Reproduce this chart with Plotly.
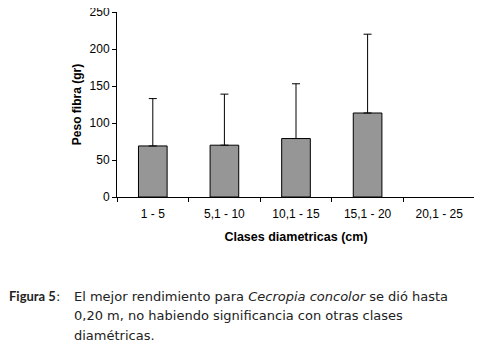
import plotly.graph_objects as go

categories = ["1 - 5", "5,1 - 10", "10,1 - 15", "15,1 - 20", "20,1 - 25"]
peso_fibra = [69, 70, 79, 113.5, None]
error_sup = [64, 69, 74, 106.5, None]
y_ticks = [0, 50, 100, 150, 200, 250]

# page body has an 8px margin; figure coordinates = screen - 8
W, H = 474, 344
L, R, T, B = 109, 7, 4, 155
ph = H - T - B
pw = W - L - R

def px(x):
    return (x - L) / pw

def py(y):
    return (H - B - y) / ph

fig = go.Figure()
fig.add_trace(go.Bar(
    x=categories, y=peso_fibra, width=0.4,
    marker=dict(color="#969696", line=dict(color="black", width=1)),
    error_y=dict(type="data", symmetric=False, array=error_sup, arrayminus=[0]*5,
                 color="black", thickness=1, width=4),
))

font_chart = "Liberation Sans, Arial, sans-serif"
fig.update_layout(
    width=W, height=H,
    margin=dict(l=L, r=R, t=T, b=B, pad=0, autoexpand=False),
    paper_bgcolor="white", plot_bgcolor="white",
    showlegend=False,
    font=dict(family=font_chart, size=12, color="black"),
    xaxis=dict(
        automargin=False,
        showline=True, linecolor="black", linewidth=1,
        ticks="outside", ticklen=4, tickcolor="black", tickson="boundaries",
        ticklabelstandoff=6,
        showgrid=False, tickfont=dict(size=12),
        title=dict(text="<b>Clases diametricas (cm)</b>", font=dict(size=12.5), standoff=11),
    ),
    yaxis=dict(
        automargin=False,
        range=[0, 250], tickvals=y_ticks,
        showline=True, linecolor="black", linewidth=1,
        ticks="outside", ticklen=4, tickcolor="black", ticklabeloverflow="allow",
        showgrid=False, zeroline=False, tickfont=dict(size=12),
        title=dict(text="<b>Peso fibra (gr)</b>", font=dict(size=12), standoff=5),
    ),
)

cap_font = dict(family="DejaVu Sans, Verdana, sans-serif", size=13, color="#222222")
fig.add_annotation(xref="paper", yref="paper", x=px(-1), y=py(288), xanchor="left", yanchor="middle",
                   text="<b>Figura 5</b>", showarrow=False,
                   font=dict(family="Lato, sans-serif", size=13, color="#222222"))
fig.add_annotation(xref="paper", yref="paper", x=px(46), y=py(288), xanchor="left", yanchor="middle",
                   text=":", showarrow=False, font=cap_font)
lines = ["El mejor rendimiento para <i>Cecropia concolor</i> se dió hasta",
         "0,20 m, no habiendo significancia con otras clases",
         "diamétricas."]
for i, t in enumerate(lines):
    fig.add_annotation(xref="paper", yref="paper", x=px(64), y=py(288 + 19.5 * i),
                       xanchor="left", yanchor="middle", text=t, showarrow=False, font=cap_font)

fig.write_html("out.html")
